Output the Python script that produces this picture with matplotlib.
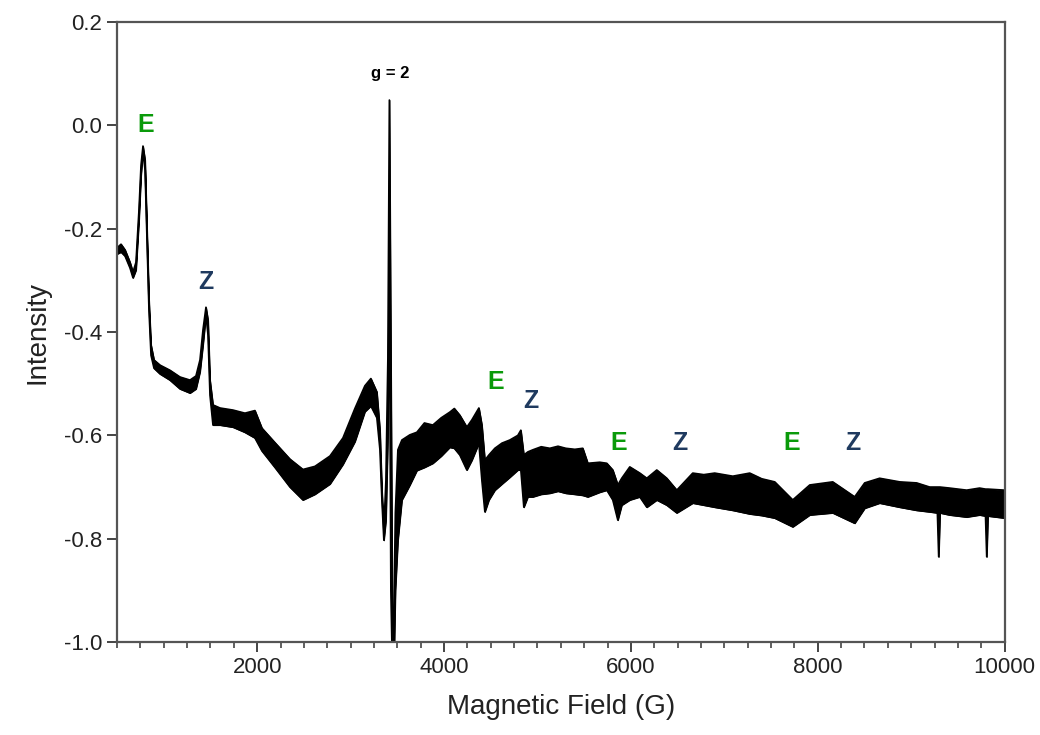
import matplotlib
matplotlib.use("Agg")
import matplotlib.pyplot as plt
from matplotlib.ticker import MultipleLocator, FormatStrFormatter

plt.rcParams["font.family"] = ["Liberation Sans", "DejaVu Sans"]

# field (G) with upper / lower edge of the noisy trace
field = [500, 543, 586, 639, 671, 703, 735, 757, 778, 800, 821, 842, 864, 896,
         960, 1067, 1174, 1281, 1345, 1388, 1420, 1452, 1474, 1495, 1527, 1602,
         1741, 1869, 1976, 2051, 2190, 2351, 2490, 2618, 2779, 2918, 3046, 3153,
         3217, 3281, 3314, 3335, 3356, 3378, 3399, 3415, 3431, 3447, 3463, 3479,
         3506, 3549, 3634, 3709, 3790, 3880, 3970, 4062, 4110, 4169, 4244, 4298,
         4373, 4405, 4437, 4480, 4544, 4620, 4704, 4790, 4822, 4854, 4897, 4950,
         5040, 5132, 5220, 5303, 5400, 5485, 5539, 5667, 5742, 5806, 5860, 5902,
         5988, 6095, 6170, 6277, 6384, 6491, 6662, 6780, 6897, 7090, 7272, 7400,
         7539, 7732, 7914, 8160, 8395, 8502, 8662, 8877, 9058, 9197, 9280, 9294,
         9308, 9411, 9593, 9732, 9795, 9808, 9821, 10000]
upper = [-0.237, -0.230, -0.241, -0.265, -0.284, -0.265, -0.164, -0.077, -0.040,
         -0.067, -0.203, -0.338, -0.425, -0.454, -0.464, -0.474, -0.487, -0.493,
         -0.485, -0.454, -0.396, -0.352, -0.377, -0.493, -0.541, -0.547, -0.551,
         -0.557, -0.552, -0.586, -0.614, -0.646, -0.666, -0.660, -0.640, -0.605,
         -0.548, -0.504, -0.490, -0.516, -0.590, -0.706, -0.783, -0.687, -0.450,
         0.049, -0.450, -0.950, -0.950, -0.750, -0.628, -0.609, -0.599, -0.594,
         -0.576, -0.580, -0.566, -0.555, -0.548, -0.561, -0.584, -0.570, -0.547,
         -0.580, -0.648, -0.638, -0.625, -0.615, -0.609, -0.600, -0.590, -0.638,
         -0.632, -0.628, -0.622, -0.625, -0.621, -0.625, -0.627, -0.625, -0.654,
         -0.652, -0.654, -0.667, -0.696, -0.683, -0.661, -0.673, -0.683, -0.667,
         -0.683, -0.706, -0.673, -0.676, -0.673, -0.679, -0.673, -0.684, -0.690,
         -0.725, -0.696, -0.690, -0.719, -0.692, -0.683, -0.690, -0.692, -0.700,
         -0.700, -0.700, -0.700, -0.702, -0.706, -0.702, -0.704, -0.704, -0.704,
         -0.706]
lower = [-0.249, -0.245, -0.253, -0.276, -0.295, -0.280, -0.183, -0.096, -0.052,
         -0.086, -0.222, -0.357, -0.445, -0.470, -0.481, -0.493, -0.510, -0.518,
         -0.510, -0.477, -0.425, -0.367, -0.406, -0.522, -0.580, -0.580, -0.584,
         -0.594, -0.605, -0.630, -0.662, -0.700, -0.725, -0.714, -0.694, -0.656,
         -0.612, -0.554, -0.543, -0.566, -0.628, -0.725, -0.803, -0.764, -0.600,
         -0.300, -0.900, -1.050, -1.050, -0.900, -0.803, -0.725, -0.696, -0.668,
         -0.662, -0.654, -0.640, -0.623, -0.625, -0.638, -0.667, -0.648, -0.615,
         -0.687, -0.748, -0.725, -0.706, -0.694, -0.681, -0.667, -0.667, -0.739,
         -0.719, -0.719, -0.714, -0.712, -0.708, -0.712, -0.714, -0.716, -0.719,
         -0.710, -0.706, -0.725, -0.764, -0.735, -0.725, -0.719, -0.739, -0.725,
         -0.735, -0.750, -0.731, -0.735, -0.739, -0.745, -0.752, -0.755, -0.760,
         -0.777, -0.754, -0.750, -0.770, -0.741, -0.731, -0.739, -0.745, -0.748,
         -0.750, -0.835, -0.750, -0.754, -0.758, -0.754, -0.756, -0.835, -0.756,
         -0.760]

# peak labels: (text, field, intensity, colour)
labels = [("E", 810, 0.0, "#0a9a0a"), ("Z", 1452, -0.303, "#1f3a5f"),
          ("E", 4555, -0.497, "#0a9a0a"), ("Z", 4929, -0.534, "#1f3a5f"),
          ("E", 5870, -0.615, "#0a9a0a"), ("Z", 6523, -0.615, "#1f3a5f"),
          ("E", 7721, -0.615, "#0a9a0a"), ("Z", 8374, -0.615, "#1f3a5f")]

fig = plt.figure(figsize=(10.4, 7.35), dpi=100)
ax = fig.add_axes([0.1125, 0.1265, 0.8535, 0.8435])

ax.fill_between(field, lower, upper, color="black", lw=0.8)
ax.plot(field, upper, color="black", lw=1.2)
ax.plot(field, lower, color="black", lw=1.2)

for txt, x, y, c in labels:
    ax.text(x, y, txt, color=c, fontsize=18, fontweight="bold",
            ha="center", va="center")
ax.text(3421, 0.101, "g = 2", fontsize=12, fontweight="bold",
        ha="center", va="center")

ax.set_xlim(500, 10000)
ax.set_ylim(-1.0, 0.2)
ax.xaxis.set_major_locator(MultipleLocator(2000))
ax.xaxis.set_minor_locator(MultipleLocator(250))
ax.yaxis.set_major_locator(MultipleLocator(0.2))
ax.yaxis.set_major_formatter(FormatStrFormatter("%.1f"))
ax.tick_params(direction="out", length=7, width=1.4, color="#444",
               labelsize=16, labelcolor="#222", top=False, right=False)
ax.tick_params(which="minor", direction="out", length=4, width=1.2,
               color="#444", top=False)
for s in ax.spines.values():
    s.set_color("#555")
    s.set_linewidth(1.6)

ax.set_xlabel("Magnetic Field (G)", fontsize=20, color="#222", labelpad=12)
ax.set_ylabel("Intensity", fontsize=20, color="#222", labelpad=10)

fig.savefig("out.png", dpi=100)
